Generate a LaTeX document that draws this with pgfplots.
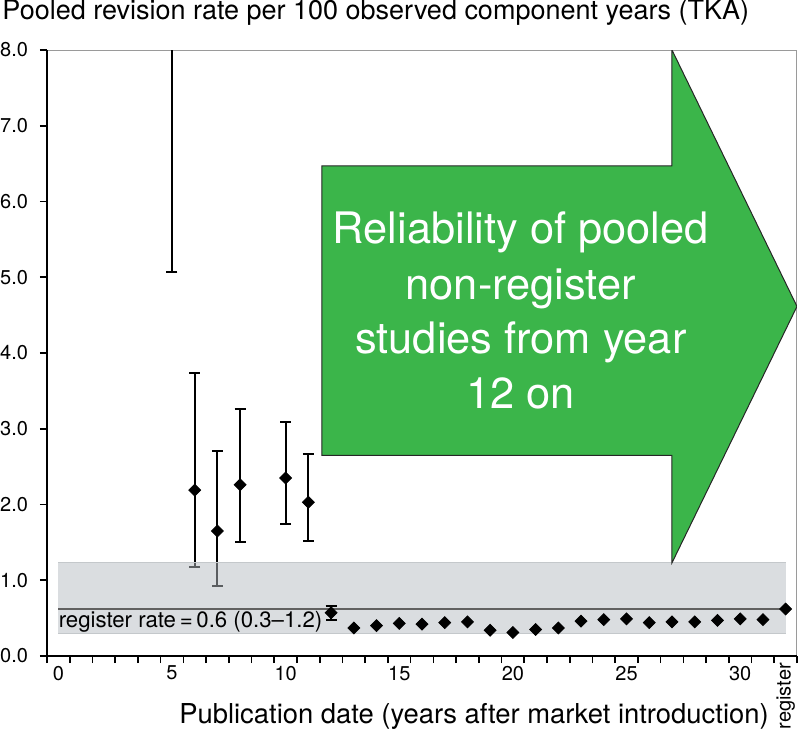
\documentclass[border=0pt]{standalone}
\usepackage{fontspec}
\setmainfont{TeX Gyre Heros}
\usepackage{graphicx}
\usepackage{pgfplots}
\pgfplotsset{compat=1.18}

\definecolor{arrowgreen}{HTML}{3BB54A}
\definecolor{bandfill}{HTML}{B5BBC1}
\definecolor{bandedge}{HTML}{C4C8CB}
\definecolor{boxgray}{HTML}{9A9A9A}

\begin{document}
\begin{tikzpicture}
\useasboundingbox (-23.5pt,-37pt) rectangle (376.5pt,328pt);
\begin{axis}[
  name=ax, at={(0pt,0pt)}, anchor=south west,
  scale only axis, width=375pt, height=303pt,
  xmin=-0.5, xmax=32.5, ymin=0, ymax=8,
  axis line style={draw=boxgray, line width=0.5pt},
  tick align=outside, tick pos=left,
  major tick length=3.5pt,
  tick style={black, line width=0.8pt},
  xtick={-0.5,0.5,...,32.5}, xticklabels={},
  extra x ticks={0,5,10,15,20,25,30,32},
  extra x tick labels={0,5,10,15,20,25,30,{\raisebox{1.5pt}[\height][\depth]{\rotatebox{90}{register}}}},
  extra x tick style={major tick length=0pt},
  xticklabel style={yshift=-1.5pt},
  ytick={0,1,...,8},
  yticklabel style={/pgf/number format/fixed, /pgf/number format/fixed zerofill,
    /pgf/number format/precision=1, /pgf/number format/assume math mode=true, xshift=-2.5pt},
  tick label style={font=\fontsize{10}{12}\selectfont},
]
% early years: wide confidence intervals
\addplot[only marks, black, mark=square*, mark size=2.1pt, mark options={rotate=45, fill=black},
  error bars/.cd, y dir=both, y explicit,
  error bar style={line width=1pt, black},
  error mark options={rotate=90, mark size=2.75pt, line width=1pt, black}]
coordinates {
  (5,9.00)  += (0,5.00) -= (0,3.93)
  (6,2.19)  += (0,1.55) -= (0,1.02)
  (7,1.65)  += (0,1.06) -= (0,0.73)
  (8,2.26)  += (0,1.00) -= (0,0.76)
  (10,2.35) += (0,0.74) -= (0,0.61)
  (11,2.03) += (0,0.64) -= (0,0.51)
};

% register band
\fill[bandfill, fill opacity=0.5] (axis cs:0,0.30) rectangle (axis cs:32,1.23);
\draw[bandedge, line width=0.4pt] (axis cs:0,1.23) -- (axis cs:32,1.23);
\draw[bandedge, line width=0.4pt] (axis cs:0,0.30) -- (axis cs:32,0.30);
\draw[black!62, line width=0.6pt] (axis cs:0,0.62) -- (axis cs:32,0.62);
\node[anchor=base west, inner sep=0pt, font=\fontsize{11.1}{12}\selectfont]
  at (axis cs:0,0.37) {register rate\,=\,0.6 (0.3--1.2)};

\addplot[only marks, black, mark=square*, mark size=2.1pt, mark options={rotate=45, fill=black},
  error bars/.cd, y dir=both, y explicit,
  error bar style={line width=1pt, black},
  error mark options={rotate=90, mark size=2.75pt, line width=1pt, black}]
coordinates {
  (12,0.57) += (0,0.09) -= (0,0.10)
  (13,0.37) (14,0.40) (15,0.43) (16,0.42) (17,0.44) (18,0.45)
  (19,0.34) (20,0.31) (21,0.35) (22,0.37) (23,0.46) (24,0.48)
  (25,0.49) (26,0.44) (27,0.45) (28,0.45) (29,0.47) (30,0.49)
  (31,0.48)
};
% register
\addplot[only marks, black, mark=square*, mark size=2.1pt, mark options={rotate=45, fill=black}]
coordinates {(32,0.62)};

% arrow annotation
\filldraw[fill=arrowgreen, draw=black!85, line width=0.5pt]
  (axis cs:11.59,6.47) -- (axis cs:27.0,6.47) -- (axis cs:27.0,8.0)
  -- (axis cs:32.5,4.615) -- (axis cs:27.0,1.23) -- (axis cs:27.0,2.65)
  -- (axis cs:11.59,2.65) -- cycle;
\begin{scope}[every node/.style={anchor=base, text=white, inner sep=0pt,
    font=\fontsize{21.7}{25}\selectfont}]
\node at (axis cs:20.35,5.45) {Reliability of pooled};
\node at (axis cs:20.35,4.71) {non-register};
\node at (axis cs:20.35,3.99) {studies from year};
\node at (axis cs:20.35,3.27) {12 on};
\end{scope}
\end{axis}
\draw[black, line width=1pt] (ax.north west) -- (ax.south west) -- (ax.south east);
\node[anchor=base west, inner sep=0pt, font=\fontsize{13.5}{15}\selectfont]
  at (-22.5pt,318.25pt) {Pooled revision rate per 100 observed component years (TKA)};
\node[anchor=base, inner sep=0pt, font=\fontsize{13.7}{16}\selectfont]
  at (213.5pt,-33.5pt) {Publication date (years after market introduction)};
\end{tikzpicture}
\end{document}
